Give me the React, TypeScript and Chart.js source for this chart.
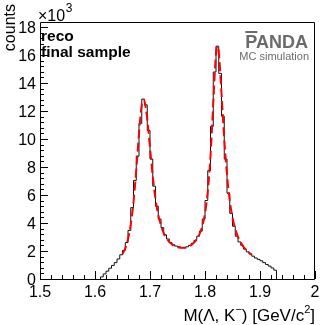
import React, { useEffect, useRef } from 'react';
import { Chart, registerables } from 'chart.js';

Chart.register(...registerables);

// Histogram: bins of 0.005 GeV/c^2 starting at 1.61; counts in units of 10^3
const binStart = 1.61;
const binWidth = 0.005;
const binCounts = [
  0.15, 0.36, 0.56, 0.77, 0.97, 1.17, 1.43, 1.73, 2.04, 2.6,
  3.47, 5.1, 7.04, 8.77, 11.12, 12.85, 12.44, 10.61, 8.57, 6.63,
  5.2, 4.28, 3.67, 3.16, 2.86, 2.6, 2.45, 2.35, 2.3, 2.24,
  2.24, 2.3, 2.4, 2.55, 2.75, 3.06, 3.42, 4.28, 5.61, 7.75,
  10.91, 14.79, 16.63, 14.69, 11.63, 8.57, 6.12, 4.69, 3.77, 3.06,
  2.65, 2.4, 2.14, 1.94, 1.79, 1.63, 1.5, 1.4, 1.3, 1.17,
  1.04, 0.92, 0.79, 0.63,
];

// Fit curve (red dashed), sampled values in units of 10^3
const fitMass = [
  1.65, 1.655, 1.66, 1.665, 1.67, 1.675, 1.68, 1.685, 1.6885, 1.69,
  1.695, 1.7, 1.705, 1.71, 1.715, 1.72, 1.725, 1.73, 1.735, 1.74,
  1.745, 1.75, 1.755, 1.76, 1.765, 1.77, 1.775, 1.78, 1.785, 1.79,
  1.795, 1.8, 1.805, 1.81, 1.815, 1.82, 1.8225, 1.825, 1.83, 1.835,
  1.84, 1.845, 1.85, 1.855, 1.86, 1.865, 1.87, 1.875, 1.88, 1.885,
];
const fitCounts = [
  1.79, 2.19, 2.86, 3.88, 5.51, 7.75, 10.4, 12.44, 12.8, 12.7,
  11.42, 9.38, 7.34, 5.71, 4.59, 3.83, 3.26, 2.91, 2.65, 2.47,
  2.35, 2.27, 2.24, 2.23, 2.24, 2.32, 2.43, 2.6, 2.86, 3.21,
  3.77, 4.69, 6.22, 8.77, 12.55, 16.12, 16.63, 16.22, 13.26, 10.0,
  7.45, 5.61, 4.39, 3.57, 3.01, 2.6, 2.3, 2.06, 1.89, 1.73,
];

const xTickValues = [1.5, 1.6, 1.7, 1.8, 1.9, 2.0];
const xTickLabels = ['1.5', '1.6', '1.7', '1.8', '1.9', '2'];
const yTickValues = [0, 2, 4, 6, 8, 10, 12, 14, 16, 18];
const yTickLabels = ['0', '2', '4', '6', '8', '10', '12', '14', '16', '18'];

const X_MIN = 1.5;
const X_MAX = 2.0;
const Y_MIN = 0;
const Y_MAX = 18.36;

const FONT = '"Liberation Sans", Arial, Helvetica, sans-serif';

const rootStyle = {
  id: 'rootStyle',
  afterDraw(chart: any) {
    const ctx: CanvasRenderingContext2D = chart.ctx;
    const { left, right, top, bottom } = chart.chartArea;
    const xs = chart.scales.x;
    const ys = chart.scales.y;
    ctx.save();

    // frame
    ctx.strokeStyle = '#000';
    ctx.lineWidth = 1;
    ctx.beginPath();
    ctx.rect(left + 0.5, top + 0.5, right - left - 1, bottom - top);
    ctx.stroke();

    // x ticks (inside)
    ctx.beginPath();
    for (let k = 0; k <= 25; k++) {
      const v = X_MIN + k * 0.02;
      const px = Math.round(xs.getPixelForValue(v)) + 0.5;
      const len = k % 5 === 0 ? 8 : 4;
      ctx.moveTo(px, bottom);
      ctx.lineTo(px, bottom - len);
    }
    // y ticks (inside)
    for (let k = 0; k * 0.4 <= Y_MAX + 1e-9; k++) {
      const v = k * 0.4;
      const py = Math.round(ys.getPixelForValue(v)) + 0.5;
      const len = k % 5 === 0 ? 8 : 4;
      ctx.moveTo(left, py);
      ctx.lineTo(left + len, py);
    }
    ctx.stroke();

    ctx.fillStyle = '#000';
    // x tick labels
    ctx.font = `16px ${FONT}`;
    ctx.textAlign = 'center';
    ctx.textBaseline = 'alphabetic';
    xTickValues.forEach((v, i) => {
      ctx.fillText(xTickLabels[i], xs.getPixelForValue(v), 297);
    });
    // y tick labels
    ctx.textAlign = 'right';
    yTickValues.forEach((v, i) => {
      ctx.fillText(yTickLabels[i], 36, ys.getPixelForValue(v) + 5.5);
    });

    // x10^3
    ctx.textAlign = 'left';
    ctx.font = `16px ${FONT}`;
    ctx.fillText('\u00d710', 38, 21);
    const w10 = ctx.measureText('\u00d710').width;
    ctx.font = `12px ${FONT}`;
    ctx.fillText('3', 38 + w10 + 0.5, 12);

    // y title
    ctx.save();
    ctx.translate(15, 4);
    ctx.rotate(-Math.PI / 2);
    ctx.font = `16px ${FONT}`;
    ctx.textAlign = 'right';
    ctx.fillText('counts', 0, 0);
    ctx.restore();

    // x title, right aligned at frame right
    const parts: [string, boolean][] = [
      ['M(\u039b, K', false],
      ['\u2212', true],
      [') [GeV/c', false],
      ['2', true],
      [']', false],
    ];
    const normal = `17px ${FONT}`;
    const sup = `11px ${FONT}`;
    let total = 0;
    parts.forEach(([t, s]) => {
      ctx.font = s ? sup : normal;
      total += ctx.measureText(t).width;
    });
    let cx = right - total;
    const base = 321;
    parts.forEach(([t, s]) => {
      ctx.font = s ? sup : normal;
      ctx.fillText(t, cx, s ? base - 8 : base);
      cx += ctx.measureText(t).width;
    });

    // legend-like text
    ctx.font = `bold 15.5px ${FONT}`;
    ctx.fillText('reco', 41, 41);
    ctx.fillText('final sample', 41, 57);

    // PANDA logo
    ctx.fillStyle = '#6b6b6b';
    ctx.font = `bold 18px ${FONT}`;
    ctx.textAlign = 'right';
    ctx.fillText('PANDA', 308, 48);
    const pw = ctx.measureText('PANDA').width;
    const wP = ctx.measureText('P').width;
    ctx.fillRect(308 - pw, 31, wP, 2);
    ctx.font = `11px ${FONT}`;
    ctx.fillText('MC simulation', 309, 60);

    ctx.restore();
  },
};

export default function App() {
  const ref = useRef<HTMLCanvasElement | null>(null);

  useEffect(() => {
    document.body.style.margin = '0';
    const canvas = ref.current;
    if (!canvas) return;

    // points at bin lower edges; 'before' draws the horizontal at the previous value first
    const histPoints: { x: number; y: number }[] = [{ x: binStart, y: 0 }];
    binCounts.forEach((c, i) => histPoints.push({ x: binStart + i * binWidth, y: c }));
    histPoints.push({ x: binStart + binCounts.length * binWidth, y: 0 });

    const fitPoints = fitMass.map((m, i) => ({ x: m, y: fitCounts[i] }));

    const chart = new Chart(canvas, {
      type: 'line',
      data: {
        datasets: [
          {
            label: 'fit',
            data: fitPoints,
            borderColor: '#ff0000',
            borderWidth: 2,
            borderDash: [9, 4],
            pointRadius: 0,
            cubicInterpolationMode: 'monotone',
            fill: false,
            order: 0,
          },
          {
            label: 'reco',
            data: histPoints,
            stepped: 'before',
            borderColor: '#111',
            borderWidth: 1,
            pointRadius: 0,
            fill: false,
            order: 1,
          },
        ],
      },
      options: {
        animation: false,
        responsive: false,
        devicePixelRatio: 1,
        layout: { padding: { left: 40, right: 17, top: 22, bottom: 46 } },
        scales: {
          x: { type: 'linear', min: X_MIN, max: X_MAX, display: false },
          y: { type: 'linear', min: Y_MIN, max: Y_MAX, display: false },
        },
        plugins: {
          legend: { display: false },
          tooltip: { enabled: false },
        },
      },
      plugins: [rootStyle],
    } as any);

    return () => chart.destroy();
  }, []);

  return (
    <div style={{ width: 332, height: 325, background: '#fff' }}>
      <canvas ref={ref} width={332} height={325} style={{ display: 'block' }} />
    </div>
  );
}
